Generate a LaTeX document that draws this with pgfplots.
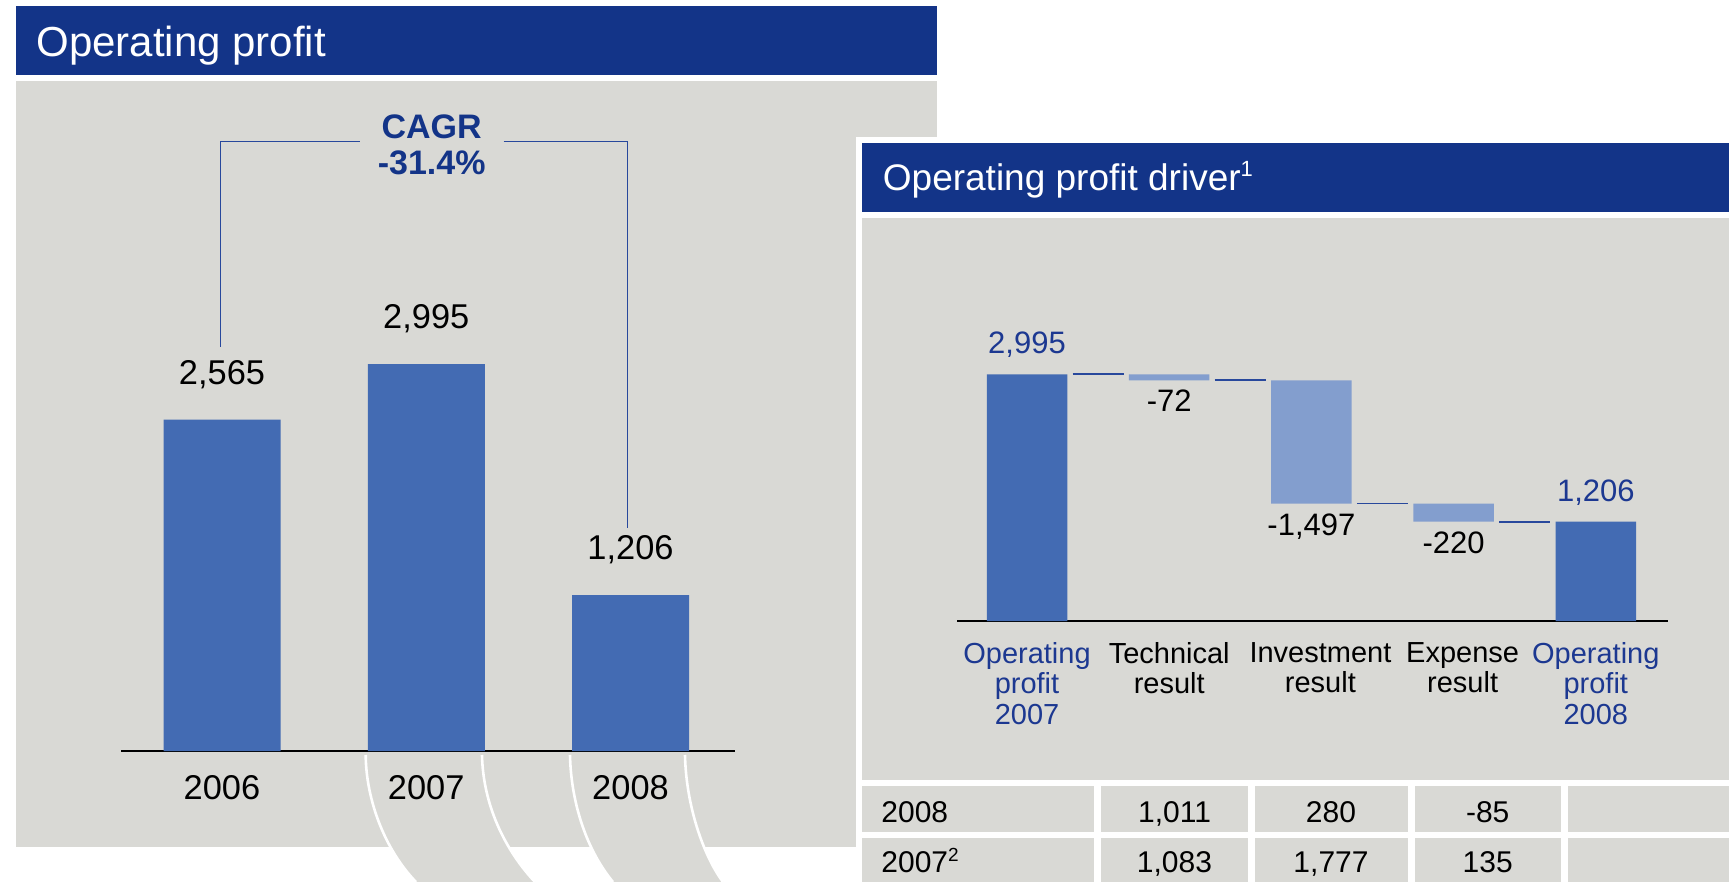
\documentclass[border=0pt]{standalone}
\usepackage{pgfplots}
\pgfplotsset{compat=1.18}
\usepackage{fontspec}
\setmainfont{Liberation Sans}
\definecolor{titleblue}{RGB}{19,52,136}
\definecolor{barblue}{RGB}{67,107,179}
\definecolor{lightbar}{RGB}{131,158,206}
\definecolor{panelgray}{RGB}{217,217,213}
\definecolor{textblue}{RGB}{28,56,145}
\definecolor{linkblue}{RGB}{40,72,156}
\newcommand{\fs}[1]{\fontsize{#1}{#1}\selectfont}
\begin{document}
\begin{tikzpicture}
\begin{scope}[x=0.5pt,y=-0.5pt]
\path[use as bounding box] (0,0) rectangle (1729,882);
\fill[white] (0,0) rectangle (1729,882);
% ---------- left panel ----------
\fill[titleblue] (16,6) rectangle (937,75);
\node[anchor=base west, inner sep=0pt, text=white, font=\fs{21}] at (36,56.7) {Operating profit};
\fill[panelgray] (16,81) rectangle (937,846.7);
% decorative bands
\fill[panelgray] (365.7,755) .. controls (366,800) and (385,850) .. (416,882) -- (535,882) .. controls (505,850) and (483,805) .. (482,755) -- cycle;
\fill[panelgray] (570,755) .. controls (571,805) and (588,852) .. (613,882) -- (723,882) .. controls (703,855) and (686,805) .. (685,755) -- cycle;
\draw[white, line width=1.3pt] (365.7,755) .. controls (366,800) and (385,850) .. (416,882);
\draw[white, line width=1.3pt] (482,755) .. controls (483,805) and (505,850) .. (535,882);
\draw[white, line width=1.3pt] (570,755) .. controls (571,805) and (588,852) .. (613,882);
\draw[white, line width=1.3pt] (685,755) .. controls (686,805) and (703,855) .. (723,882);
% CAGR bracket
\draw[linkblue, line width=0.6pt] (220.6,346.7) -- (220.6,141.7) -- (359.7,141.7);
\draw[linkblue, line width=0.6pt] (503.6,141.7) -- (627.7,141.7) -- (627.7,527.7);
\node[anchor=base, inner sep=0pt, text=titleblue, font=\bfseries\fs{17}] at (431.7,139) {CAGR};
\node[anchor=base, inner sep=0pt, text=titleblue, font=\bfseries\fs{17}] at (431.7,174.5) {-31.4\%};
% ---------- right panel ----------
\fill[white] (856,136.7) rectangle (1729,882);
\fill[titleblue] (862,142.7) rectangle (1729,212);
\node[anchor=base west, inner sep=0pt, text=white, font=\fs{18.5}] at (882.5,191) {Operating profit driver\raisebox{0.4em}{\fs{11}1}};
\fill[panelgray] (862,218) rectangle (1729,780);
% table
\foreach \ya/\yb in {786/831.7, 838/882}{
  \fill[panelgray] (862,\ya) rectangle (1094,\yb);
  \fill[panelgray] (1101,\ya) rectangle (1248,\yb);
  \fill[panelgray] (1254.7,\ya) rectangle (1407.7,\yb);
  \fill[panelgray] (1414.5,\ya) rectangle (1560.8,\yb);
  \fill[panelgray] (1567.5,\ya) rectangle (1729,\yb);
}
\begin{scope}[every node/.style={inner sep=0pt, font=\fs{15}}]
\node[anchor=base west] at (881,822) {2008};
\node[anchor=base] at (1174.5,822) {1,011};
\node[anchor=base] at (1331,822) {280};
\node[anchor=base] at (1487.7,822) {-85};
\node[anchor=base west] at (881,872.5) {2007\raisebox{0.38em}{\fs{9.5}2}};
\node[anchor=base] at (1174.5,872.5) {1,083};
\node[anchor=base] at (1331,872.5) {1,777};
\node[anchor=base] at (1487.7,872.5) {135};
\end{scope}
\end{scope}

% ---------- left bar chart ----------
\begin{axis}[at={(60.5pt,-375.5pt)}, anchor=south west, scale only axis,
  width=307pt, height=193.8pt,
  xmin=-0.4945, xmax=2.5116, ymin=0, ymax=3000,
  axis x line*=bottom, axis y line=none,
  axis line style={black, line width=0.75pt},
  ybar, bar width=58.5pt,
  xtick={0,1,2}, xticklabels={2006,2007,2008},
  major tick length=0pt, ytick=\empty,
  xticklabel style={font=\fs{17.2}, anchor=north, inner sep=0pt, yshift=-12pt},
  nodes near coords,
  every node near coord/.append style={font=\fs{17.2}, anchor=south, inner sep=0pt, text depth=0pt, yshift=17.5pt, text=black},
  /pgf/number format/assume math mode=true,
  clip=false]
\addplot[fill=barblue, draw=none] coordinates {(0,2565) (1,2995) (2,1206)};
\end{axis}

% ---------- waterfall ----------
\begin{axis}[at={(478.5pt,-310.5pt)}, anchor=south west, scale only axis,
  width=355.5pt, height=123.55pt,
  xmin=-0.4923, xmax=4.5077, ymin=0, ymax=3000,
  axis x line*=bottom, axis y line=none,
  axis line style={black, line width=0.75pt},
  ybar stacked, bar width=40.25pt,
  xtick={0,1,4},
  xticklabels={{\textcolor{textblue}{Operating}\\\textcolor{textblue}{profit}\\\textcolor{textblue}{2007}},
    {Technical\\result},
    {\textcolor{textblue}{Operating}\\\textcolor{textblue}{profit}\\\textcolor{textblue}{2008}}},
  extra x ticks={2,3},
  extra x tick labels={{Investment\\result},{Expense\\result}},
  extra x tick style={xticklabel style={xshift=4.5pt}},
  major tick length=0pt, ytick=\empty,
  xticklabel style={font=\fontsize{14.5}{15.2}\selectfont, align=center, anchor=north, inner sep=0pt, yshift=-10.5pt},
  clip=false]
\addplot[draw=none, fill=none] coordinates {(0,0) (1,2923) (2,1426) (3,1206) (4,0)};
\addplot[draw=none, fill=barblue] coordinates {(0,2995) (1,0) (2,0) (3,0) (4,1206)};
\addplot[draw=none, fill=lightbar] coordinates {(0,0) (1,72) (2,1497) (3,220) (4,0)};
\end{axis}

% ---------- waterfall connectors and value labels ----------
\begin{axis}[at={(478.5pt,-310.5pt)}, anchor=south west, scale only axis,
  width=355.5pt, height=123.55pt,
  xmin=-0.4923, xmax=4.5077, ymin=0, ymax=3000,
  hide axis, clip=false]
\addplot[linkblue, line width=0.85pt] coordinates {(0.32,2995) (0.68,2995)};
\addplot[linkblue, line width=0.85pt] coordinates {(1.32,2923) (1.68,2923)};
\addplot[linkblue, line width=0.85pt] coordinates {(2.32,1426) (2.68,1426)};
\addplot[linkblue, line width=0.85pt] coordinates {(3.32,1206) (3.68,1206)};
\addplot[only marks, mark=none, point meta=explicit symbolic, nodes near coords,
  every node near coord/.append style={font=\fs{15.5}, anchor=south, inner sep=0pt, text depth=0pt, yshift=10pt, text=textblue}]
  coordinates {(0,2995)[2,995] (4,1206)[1,206]};
\addplot[only marks, mark=none, point meta=explicit symbolic, nodes near coords,
  every node near coord/.append style={font=\fs{15.5}, anchor=south, inner sep=0pt, text depth=0pt, yshift=-16pt, text=black}]
  coordinates {(1,2923)[-72] (2,1426)[-1,497] (3,1206)[-220]};
\end{axis}
\end{tikzpicture}
\end{document}
